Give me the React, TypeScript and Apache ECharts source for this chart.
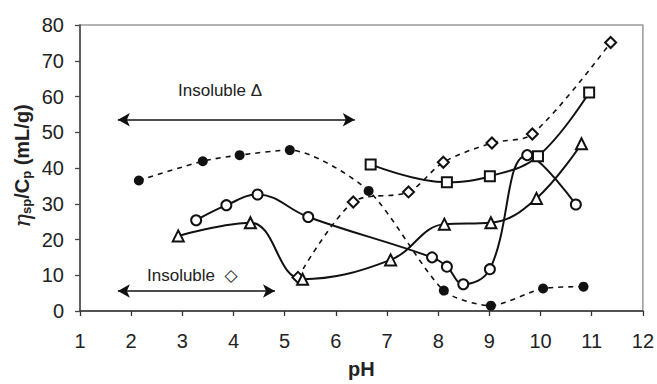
import React, { useEffect, useRef } from "react";
import * as echarts from "echarts";

const xTicks = [1, 12, 1];
const yTicks = [0, 80, 10];

const phFilled = [2.15, 3.4, 4.12, 5.1, 6.64, 8.11, 9.03, 10.05, 10.84];
const etaFilled = [36.5, 41.9, 43.6, 45.0, 33.6, 5.7, 1.5, 6.3, 6.8];

const phDiamond = [5.26, 6.34, 7.42, 8.1, 9.05, 9.84, 11.37];
const etaDiamond = [9.4, 30.5, 33.3, 41.6, 47.0, 49.5, 75.1];

const phCircle = [3.27, 3.86, 4.47, 5.46, 7.88, 8.17, 8.49, 9.01, 9.74, 10.69];
const etaCircle = [25.4, 29.6, 32.6, 26.3, 15.0, 12.4, 7.5, 11.7, 43.6, 29.8];

const phTriangle = [2.92, 4.33, 5.35, 7.07, 8.12, 9.03, 9.92, 10.8];
const etaTriangle = [21.0, 24.7, 8.9, 14.3, 24.3, 24.7, 31.5, 46.8];

const phSquare = [6.68, 8.17, 9.01, 9.95, 10.95];
const etaSquare = [41.0, 36.0, 37.7, 43.3, 61.1];

const arrowTriangle = [1.74, 6.37, 53.5];
const arrowDiamond = [1.74, 4.81, 5.6];

const zip = (xs: number[], ys: number[]) => xs.map((x, i) => [x, ys[i]]);

const FONT = "'Liberation Sans', Arial, 'DejaVu Sans', sans-serif";

export default function App() {
  const ref = useRef<HTMLDivElement>(null);
  useEffect(() => {
    if (!ref.current) return;
    const chart = echarts.init(ref.current, null, { renderer: "svg" });
    const ink = "#111";
    const solid = (name: string, symbol: string, xs: number[], ys: number[], size: number) => ({
      name,
      type: "line",
      data: zip(xs, ys),
      smooth: 0.4,
      symbol,
      symbolSize: size,
      lineStyle: { color: ink, width: 2 },
      itemStyle: { color: ink, borderColor: ink, borderWidth: 1.7 },
      z: 3,
    });
    chart.setOption({
      animation: false,
      backgroundColor: "#fff",
      grid: {
        left: 80,
        right: 14,
        top: 25,
        bottom: 72,
        show: true,
        borderColor: "#9a9a9a",
        borderWidth: 1.5,
        containLabel: false,
      },
      xAxis: {
        type: "value",
        min: xTicks[0],
        max: xTicks[1],
        interval: xTicks[2],
        name: "pH",
        nameLocation: "middle",
        nameGap: 48,
        nameTextStyle: { fontFamily: FONT, fontSize: 20, fontWeight: "bold", color: "#222", lineHeight: 20 },
        axisLine: { show: true, onZero: false, lineStyle: { color: "#333", width: 1.5 } },
        axisTick: { show: true, inside: false, length: 5, lineStyle: { color: "#333", width: 1.3 } },
        axisLabel: { fontFamily: FONT, fontSize: 20, color: "#222", margin: 20 },
        splitLine: { show: false },
      },
      yAxis: {
        type: "value",
        min: yTicks[0],
        max: yTicks[1],
        interval: yTicks[2],
        axisLine: { show: true, onZero: false, lineStyle: { color: "#444", width: 1.5 } },
        axisTick: { show: true, inside: false, length: 5, lineStyle: { color: "#444", width: 1.3 } },
        axisLabel: { fontFamily: FONT, fontSize: 20, color: "#222", margin: 16 },
        splitLine: { show: false },
      },
      graphic: [
        {
          type: "text",
          x: 22,
          y: 166,
          rotation: Math.PI / 2,
          style: {
            text: "{eta|η}{sub|sp}{b|/C}{sub|p}{b| (mL/g)}",
            align: "center",
            verticalAlign: "middle",
            rich: {
              eta: { fontFamily: "'DejaVu Serif', serif", fontStyle: "italic", fontSize: 23, fill: "#222" },
              b: { fontFamily: FONT, fontWeight: "bold", fontSize: 20, fill: "#222" },
              sub: { fontFamily: FONT, fontWeight: "bold", fontSize: 13, fill: "#222", padding: [9, 0, 0, 0] },
            },
          },
        },
        {
          type: "text",
          x: 178,
          y: 90,
          style: {
            text: "Insoluble Δ",
            fontFamily: FONT,
            fontSize: 17,
            fill: "#222",
            verticalAlign: "middle",
          },
        },
        {
          type: "text",
          x: 147,
          y: 275,
          style: {
            text: "Insoluble  ◇",
            fontFamily: FONT,
            fontSize: 17,
            fill: "#222",
            verticalAlign: "middle",
          },
        },
      ],
      series: [
        {
          name: "filled",
          type: "line",
          data: zip(phFilled, etaFilled),
          smooth: 0.25,
          symbol: "circle",
          symbolSize: 10,
          lineStyle: { color: ink, width: 1.6, type: [5, 5] },
          itemStyle: { color: ink },
          z: 4,
        },
        {
          name: "diamond",
          type: "line",
          data: zip(phDiamond, etaDiamond),
          smooth: 0.3,
          symbol: "emptyDiamond",
          symbolSize: 11,
          lineStyle: { color: ink, width: 1.6, type: [5, 5] },
          itemStyle: { color: ink, borderColor: ink, borderWidth: 1.7 },
          z: 3,
        },
        solid("circle", "emptyCircle", phCircle, etaCircle, 10),
        solid("triangle", "emptyTriangle", phTriangle, etaTriangle, 11),
        solid("square", "emptyRect", phSquare, etaSquare, 10),
        {
          name: "arrows",
          type: "line",
          data: [],
          markLine: {
            silent: true,
            symbol: ["arrow", "arrow"],
            symbolSize: [10, 12],
            label: { show: false },
            lineStyle: { color: ink, width: 1.7, type: "solid" },
            data: [
              [
                { coord: [arrowTriangle[0], arrowTriangle[2]] },
                { coord: [arrowTriangle[1], arrowTriangle[2]] },
              ],
              [
                { coord: [arrowDiamond[0], arrowDiamond[2]] },
                { coord: [arrowDiamond[1], arrowDiamond[2]] },
              ],
            ],
          },
        },
      ],
    });
    return () => chart.dispose();
  }, []);
  return (
    <div
      ref={ref}
      style={{ width: 657, height: 384, position: "absolute", left: 0, top: 0, overflow: "hidden" }}
    />
  );
}
